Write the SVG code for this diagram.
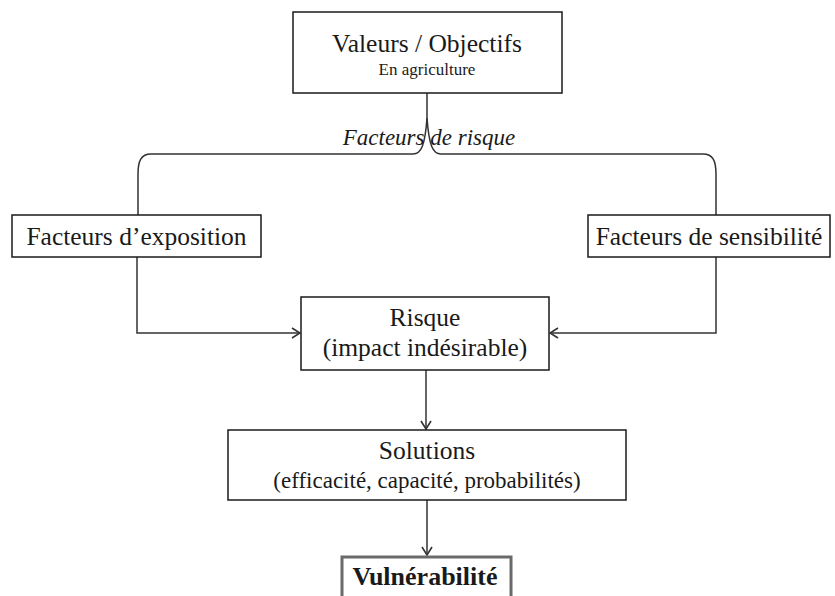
<svg xmlns="http://www.w3.org/2000/svg" width="835" height="596" viewBox="0 0 835 596">
  <style>
    .box { fill: #ffffff; stroke: #1a1a1a; stroke-width: 1.5; }
    .box-strong { fill: #ffffff; stroke: #6a6a6a; stroke-width: 3; }
    .lbl { fill: #1a1a1a; text-anchor: middle; }
    .main { font-size: 25.5px; }
    .sub { font-size: 17px; }
    .small { font-size: 23px; }
    .em { font-size: 23px; font-style: italic; }
    .bold { font-size: 26px; font-weight: bold; }
    .wire { fill: none; stroke: #333333; stroke-width: 1.5; }
  </style>
  <defs>
    <marker id="arrow" markerUnits="userSpaceOnUse" viewBox="0 0 10 12" refX="9" refY="6" markerWidth="10" markerHeight="12" orient="auto">
      <path d="M1,1 L9,6 L1,11" fill="none" stroke="#333333" stroke-width="1.6"/>
    </marker>
  </defs>
  <rect width="835" height="596" fill="#ffffff"/>

  <g id="connectors">
    <!-- brace splitting the risk factors -->
    <path class="wire" d="M138,215 L138,174 C138,161 141,154 151,154 L413,154 C421,154 425,146 427,118 L427,93"/>
    <path class="wire" d="M716,215 L716,174 C716,161 713,154 703,154 L441,154 C433,154 429,146 427,118"/>
    <!-- factors into risk -->
    <path class="wire" d="M137,257 V333 H300" marker-end="url(#arrow)"/>
    <path class="wire" d="M716,257 V333 H550" marker-end="url(#arrow)"/>
    <!-- risk to solutions to vulnerability -->
    <path class="wire" d="M426,370 V429" marker-end="url(#arrow)"/>
    <path class="wire" d="M427,500 V555" marker-end="url(#arrow)"/>
  </g>

  <g font-family="'Liberation Serif', Tinos, 'DejaVu Serif', serif">
    <text class="lbl em" x="429" y="145">Facteurs de risque</text>

    <g id="valeurs">
      <rect class="box" x="293" y="12" width="269" height="81"/>
      <text class="lbl main" x="427" y="52">Valeurs / Objectifs</text>
      <text class="lbl sub" x="427" y="75">En agriculture</text>
    </g>

    <g id="exposition">
      <rect class="box" x="12" y="215" width="249" height="42"/>
      <text class="lbl main" x="136.5" y="245">Facteurs d’exposition</text>
    </g>

    <g id="sensibilite">
      <rect class="box" x="588" y="215" width="242" height="42"/>
      <text class="lbl main" x="709" y="245">Facteurs de sensibilité</text>
    </g>

    <g id="risque">
      <rect class="box" x="301" y="297" width="248" height="73"/>
      <text class="lbl main" x="425" y="326">Risque</text>
      <text class="lbl main" x="425" y="356">(impact indésirable)</text>
    </g>

    <g id="solutions">
      <rect class="box" x="228" y="430" width="398" height="70"/>
      <text class="lbl main" x="427" y="459">Solutions</text>
      <text class="lbl small" x="427" y="488">(efficacité, capacité, probabilités)</text>
    </g>

    <g id="vulnerabilite">
      <rect class="box-strong" x="342" y="557" width="169" height="50"/>
      <text class="lbl bold" x="425" y="585">Vulnérabilité</text>
    </g>
  </g>
</svg>
